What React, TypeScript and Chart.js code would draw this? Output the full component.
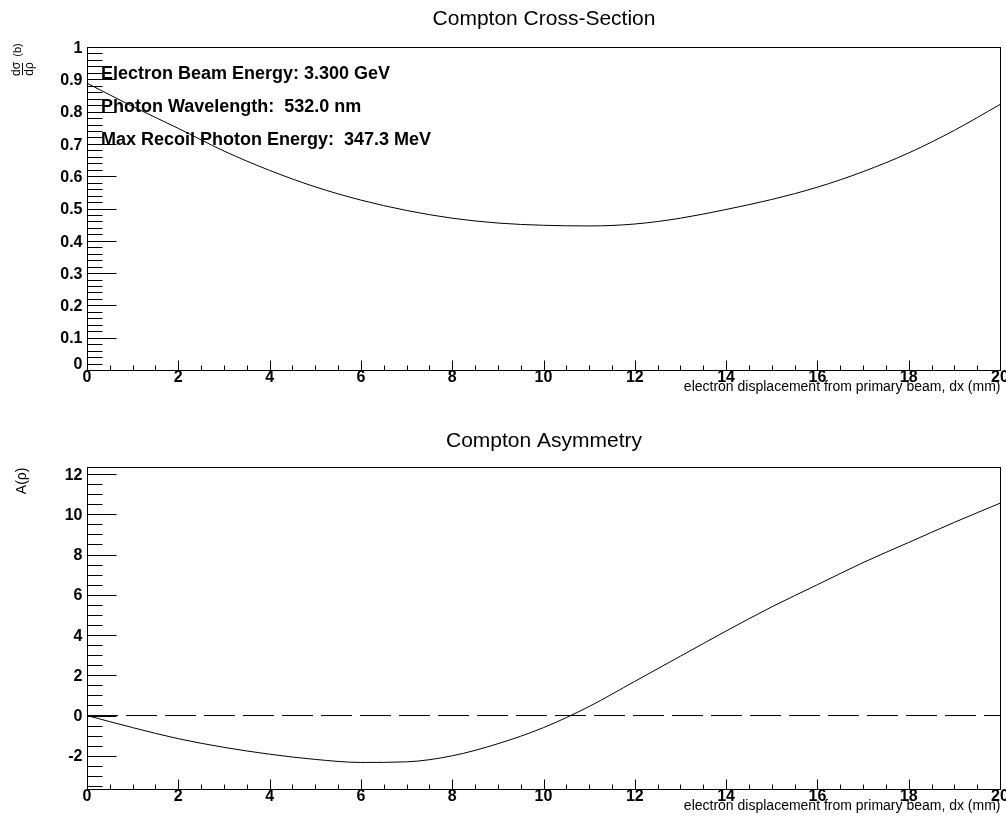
import React, { useEffect, useRef } from 'react';
import { Chart, registerables } from 'chart.js';

Chart.register(...registerables);

// ---- data ----
const dxValues = [0, 1, 2, 3, 4, 5, 6, 7, 8, 9, 10, 11, 12, 13, 14, 15, 16, 17, 18, 19, 20];
const crossSection = [0.888, 0.816, 0.748, 0.678, 0.618, 0.567, 0.526, 0.494, 0.47, 0.455, 0.448, 0.446, 0.452, 0.47, 0.497, 0.528, 0.566, 0.614, 0.672, 0.742, 0.822];
const asymmetry = [0.0, -0.6, -1.15, -1.58, -1.92, -2.18, -2.33, -2.3, -2.0, -1.4, -0.6, 0.45, 1.7, 2.95, 4.2, 5.4, 6.5, 7.6, 8.6, 9.6, 10.55];
const zeroLineX = [0, 20];
const zeroLineY = [0, 0];

const xTickValues = [0, 2, 4, 6, 8, 10, 12, 14, 16, 18, 20];
const xTickLabels = ['0', '2', '4', '6', '8', '10', '12', '14', '16', '18', '20'];
const crossTickValues = [0, 0.1, 0.2, 0.3, 0.4, 0.5, 0.6, 0.7, 0.8, 0.9, 1];
const crossTickLabels = ['0', '0.1', '0.2', '0.3', '0.4', '0.5', '0.6', '0.7', '0.8', '0.9', '1'];
const asymTickValues = [-2, 0, 2, 4, 6, 8, 10, 12];
const asymTickLabels = ['-2', '0', '2', '4', '6', '8', '10', '12'];

const infoLines = [
  'Electron Beam Energy: 3.300 GeV',
  'Photon Wavelength:  532.0 nm',
  'Max Recoil Photon Energy:  347.3 MeV',
];
const crossTitle = 'Compton Cross-Section';
const asymTitle = 'Compton Asymmetry';
const xAxisTitle = 'electron displacement from primary beam, dx (mm)';

const FONT = '"Liberation Sans", Arial, Helvetica, sans-serif';

type FrameOpts = {
  title: string;
  titleBaseline: number;
  xMinor: number;
  yMinor: number;
  yTicks: number[];
  yLabels: string[];
  zeroLift: number;
  yTitle: 'frac' | 'asym';
  info: boolean;
};

const rootFrame = {
  id: 'rootFrame',
  afterDraw(chart: any, _args: any, opts: FrameOpts) {
    const { ctx, chartArea: a } = chart;
    const xs = chart.scales.x;
    const ys = chart.scales.y;
    const L = Math.round(a.left) + 0.5;
    const R = Math.round(a.right) + 0.5;
    const T = Math.round(a.top) + 0.5;
    const B = Math.round(a.bottom) + 0.5;
    ctx.save();
    ctx.strokeStyle = '#000';
    ctx.fillStyle = '#000';
    ctx.lineWidth = 1;
    ctx.setLineDash([]);
    ctx.strokeRect(L, T, R - L, B - T);

    ctx.beginPath();
    // x ticks (pointing into the frame)
    const xn = Math.round((xs.max - xs.min) / opts.xMinor);
    for (let k = 0; k <= xn; k++) {
      const v = xs.min + k * opts.xMinor;
      const major = xTickValues.some((t) => Math.abs(t - v) < 1e-6);
      const px = Math.round(xs.getPixelForValue(v)) + 0.5;
      ctx.moveTo(px, B);
      ctx.lineTo(px, B - (major ? 10 : 5));
    }
    // y ticks
    const y0 = Math.ceil(ys.min / opts.yMinor - 1e-6);
    const y1 = Math.floor(ys.max / opts.yMinor + 1e-6);
    for (let k = y0; k <= y1; k++) {
      const v = k * opts.yMinor;
      const major = opts.yTicks.some((t) => Math.abs(t - v) < 1e-6);
      const py = Math.round(ys.getPixelForValue(v)) + 0.5;
      ctx.moveTo(L, py);
      ctx.lineTo(L + (major ? 29 : 15), py);
    }
    ctx.stroke();

    // tick labels
    ctx.font = `bold 16px ${FONT}`;
    ctx.textAlign = 'center';
    ctx.textBaseline = 'alphabetic';
    xTickValues.forEach((v, i) => {
      ctx.fillText(xTickLabels[i], xs.getPixelForValue(v), B + 11);
    });
    ctx.textAlign = 'right';
    opts.yTicks.forEach((v, i) => {
      let py = ys.getPixelForValue(v) + 5.7;
      if (v === 0) py -= opts.zeroLift;
      ctx.fillText(opts.yLabels[i], L - 5, py);
    });

    // x axis title
    ctx.font = `14px ${FONT}`;
    ctx.textAlign = 'right';
    ctx.fillText(xAxisTitle, R, B + 20);

    // chart title
    ctx.font = `21px ${FONT}`;
    ctx.textAlign = 'center';
    ctx.fillText(opts.title, (L + R) / 2, opts.titleBaseline);

    // y axis title
    if (opts.yTitle === 'frac') {
      ctx.save();
      ctx.translate(22, 80);
      ctx.rotate(-Math.PI / 2);
      ctx.font = `12px ${FONT}`;
      ctx.textAlign = 'center';
      ctx.textBaseline = 'alphabetic';
      ctx.fillText('dσ', 11, -2);
      ctx.fillText('dρ', 11, 10.5);
      ctx.beginPath();
      ctx.moveTo(5, 0.5);
      ctx.lineTo(17, 0.5);
      ctx.stroke();
      ctx.font = `11px ${FONT}`;
      ctx.textBaseline = 'middle';
      ctx.fillText('(b)', 30, -4.5);
      ctx.restore();
    } else {
      ctx.save();
      ctx.translate(22.5, T);
      ctx.rotate(-Math.PI / 2);
      ctx.font = `14px ${FONT}`;
      ctx.textAlign = 'right';
      ctx.textBaseline = 'middle';
      ctx.fillText('A(ρ)', 0, 0);
      ctx.restore();
    }

    if (opts.info) {
      ctx.font = `bold 18px ${FONT}`;
      ctx.textAlign = 'left';
      ctx.textBaseline = 'alphabetic';
      const bases = [78.5, 112, 145];
      infoLines.forEach((s, i) => ctx.fillText(s, 101, bases[i]));
    }
    ctx.restore();
  },
};

function makeChart(canvas: HTMLCanvasElement, which: 'cross' | 'asym') {
  const isCross = which === 'cross';
  const datasets: any[] = [
    {
      data: dxValues.map((x, i) => ({ x, y: isCross ? crossSection[i] : asymmetry[i] })),
      borderColor: '#000',
      borderWidth: 1,
      pointRadius: 0,
      fill: false,
      cubicInterpolationMode: 'monotone',
    },
  ];
  if (!isCross) {
    datasets.push({
      data: zeroLineX.map((x, i) => ({ x, y: zeroLineY[i] })),
      borderColor: '#000',
      borderWidth: 1,
      borderDash: [31, 8],
      pointRadius: 0,
      fill: false,
    });
  }
  const frame: FrameOpts = isCross
    ? {
        title: crossTitle,
        titleBaseline: 25,
        xMinor: 0.5,
        yMinor: 0.02,
        yTicks: crossTickValues,
        yLabels: crossTickLabels,
        zeroLift: 7,
        yTitle: 'frac',
        info: true,
      }
    : {
        title: asymTitle,
        titleBaseline: 38.7,
        xMinor: 0.5,
        yMinor: 0.5,
        yTicks: asymTickValues,
        yLabels: asymTickLabels,
        zeroLift: 0,
        yTitle: 'asym',
        info: false,
      };
  return new Chart(canvas, {
    type: 'line',
    data: { datasets },
    options: {
      responsive: false,
      animation: false,
      devicePixelRatio: 1,
      layout: {
        autoPadding: false,
        padding: isCross
          ? { left: 87, right: 6, top: 47, bottom: 38 }
          : { left: 87, right: 6, top: 59, bottom: 28 },
      },
      scales: {
        x: { type: 'linear', min: 0, max: 20, display: false },
        y: isCross
          ? { type: 'linear', min: 0, max: 1, display: false }
          : { type: 'linear', min: -3.65, max: 12.35, display: false },
      },
      plugins: {
        legend: { display: false },
        tooltip: { enabled: false },
        title: { display: false },
        rootFrame: frame,
      } as any,
      events: [],
    },
    plugins: [rootFrame as any],
  });
}

export default function App() {
  const topRef = useRef<HTMLCanvasElement>(null);
  const botRef = useRef<HTMLCanvasElement>(null);
  useEffect(() => {
    const c1 = makeChart(topRef.current!, 'cross');
    const c2 = makeChart(botRef.current!, 'asym');
    return () => {
      c1.destroy();
      c2.destroy();
    };
  }, []);
  return (
    <div
      style={{
        position: 'fixed',
        left: 0,
        top: 0,
        width: 1006,
        height: 817,
        background: '#fff',
        overflow: 'hidden',
      }}
    >
      <canvas ref={topRef} width={1006} height={408} style={{ display: 'block', width: 1006, height: 408 }} />
      <canvas ref={botRef} width={1006} height={409} style={{ display: 'block', width: 1006, height: 409 }} />
    </div>
  );
}
